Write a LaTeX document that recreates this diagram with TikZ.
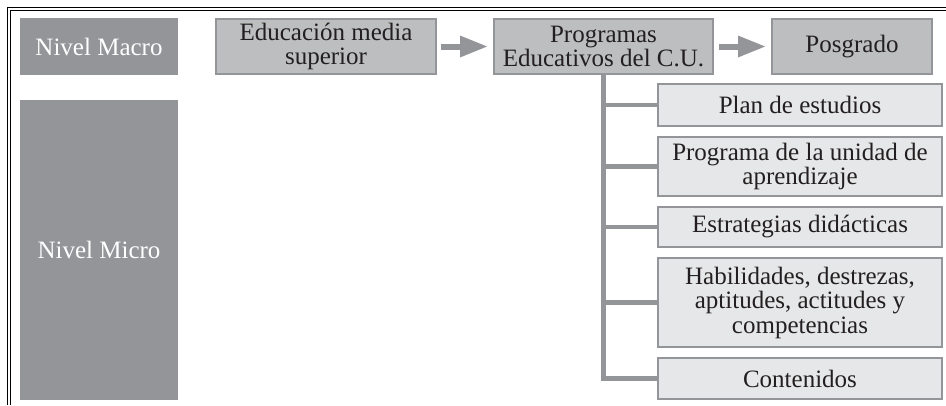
\documentclass[tikz,border=0pt]{standalone}
\usepackage{amssymb,amsmath}
\usepackage{fontspec}
\setmainfont{Liberation Serif}
\usetikzlibrary{arrows.meta}

\definecolor{darkbox}{HTML}{939598}
\definecolor{midbox}{HTML}{BCBEC0}
\definecolor{lightbox}{HTML}{E6E7E8}
\definecolor{ink}{HTML}{231F20}

\begin{document}
\begin{tikzpicture}[x=1pt, y=-1pt,
  every node/.style={font=\fontsize{25}{24.5}\selectfont, align=center, inner sep=0pt},
  nivel/.style={fill=darkbox, text=white, minimum width=158pt},
  topbox/.style={draw=darkbox, line width=2pt, fill=midbox, text=ink, minimum height=55pt},
  subbox/.style={draw=darkbox, line width=2.5pt, fill=lightbox, text=ink, minimum width=284pt},
  flecha/.style={darkbox, line width=6pt, -{Triangle[length=28pt, width=20pt]}},
  rama/.style={darkbox, line width=4.5pt}]
\useasboundingbox (0,0) rectangle (946,405);

% marco
\draw[line width=1.4pt] (7.5,405) -- (7.5,7.5) -- (946,7.5);
\draw[line width=0.6pt] (10.5,405) -- (10.5,10.5) -- (946,10.5);

% niveles
\node[nivel, minimum height=57pt] (macro) at (99,46.5) {Nivel Macro};
\node[nivel, minimum height=300pt] (micro) at (99,250) {Nivel Micro};

% fila superior
\node[topbox, minimum width=220pt] (media) at (326,46.5) {Educación media\\superior};
\node[topbox, minimum width=219pt] (progs) at (603.5,46.5) {Programas\\Educativos del C.U.};
\node[topbox, minimum width=160pt] (posgrado) at (852,46.5) {Posgrado};

\draw[flecha] ([xshift=4pt]media.east) -- ([xshift=-5pt]progs.west);
\draw[flecha] ([xshift=5pt]progs.east) -- ([xshift=-5pt]posgrado.west);

% subniveles
\node[subbox, minimum height=42pt] (plan) at (800,105) {Plan de estudios};
\node[subbox, minimum height=59pt] (unidad) at (800,166.5) {Programa de la unidad de\\aprendizaje};
\node[subbox, minimum height=40pt] (estrat) at (800,227) {Estrategias didácticas};
\node[subbox, minimum height=89pt] (habil) at (800,302.5) {Habilidades, destrezas,\\aptitudes, actitudes y\\competencias};
\node[subbox, minimum height=41pt] (conten) at (800,378.5) {Contenidos};

\draw[rama] (progs.south) |- (conten.west);
\foreach \n in {plan, unidad, estrat, habil}
  \draw[rama] (progs.south |- \n.west) -- (\n.west);

\end{tikzpicture}
\end{document}
